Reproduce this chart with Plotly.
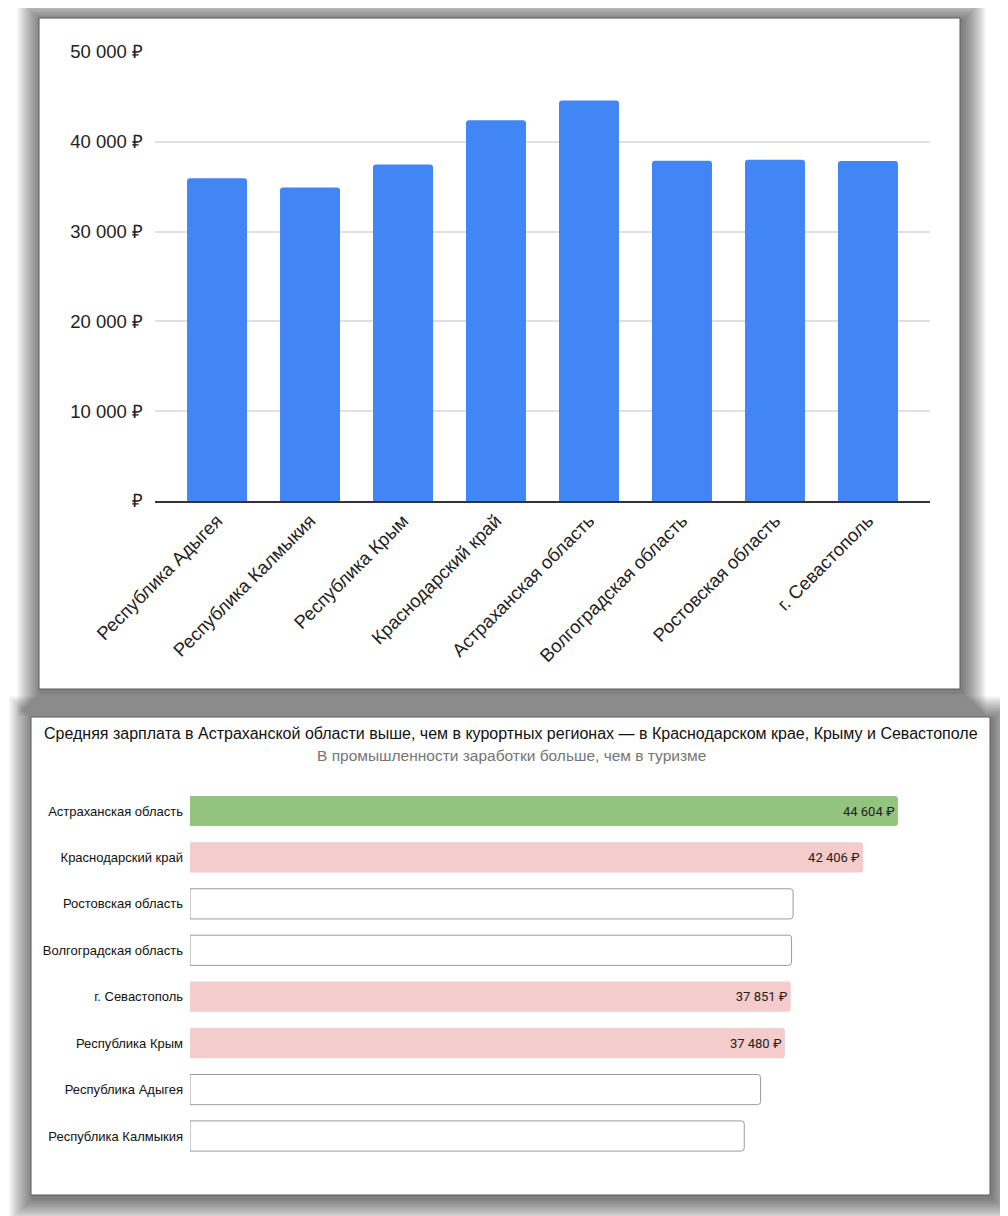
import plotly.graph_objects as go

# page body has an 8px margin: the figure is drawn at (8, 8)
OFF = 8
W, H = 1008 - OFF, 1216 - OFF

# ---------------- data ----------------
regions_top = ["Республика Адыгея", "Республика Калмыкия", "Республика Крым",
               "Краснодарский край", "Астраханская область", "Волгоградская область",
               "Ростовская область", "г. Севастополь"]
salary_top = [35950, 34920, 37480, 42406, 44604, 37900, 38000, 37851]

y_ticks = [0, 10000, 20000, 30000, 40000, 50000]
y_tick_labels = ["₽", "10 000 ₽", "20 000 ₽", "30 000 ₽", "40 000 ₽", "50 000 ₽"]

regions_bottom = ["Астраханская область", "Краснодарский край", "Ростовская область",
                  "Волгоградская область", "г. Севастополь", "Республика Крым",
                  "Республика Адыгея", "Республика Калмыкия"]
salary_bottom = [44604, 42406, 38000, 37900, 37851, 37480, 35950, 34920]
bar_labels_bottom = ["44 604 ₽", "42 406 ₽", "", "", "37 851 ₽", "37 480 ₽", "", ""]
bar_group = ["highlight", "resort", "other", "other", "resort", "resort", "other", "other"]

title_bottom = "Средняя зарплата в Астраханской области выше, чем в курортных регионах — в Краснодарском крае, Крыму и Севастополе"
subtitle_bottom = "В промышленности заработки больше, чем в туризме"

# ---------------- helpers ----------------
def px(x):
    return (x - OFF) / W

def py(y):
    return 1 - (y - OFF) / H

group_fill = {"highlight": "#93c47d", "resort": "#f4cccc", "other": "#ffffff"}
fills = [group_fill[g] for g in bar_group]
line_w = [1 if g == "other" else 0 for g in bar_group]

fig = go.Figure()

# top chart
fig.add_trace(go.Bar(
    x=regions_top, y=salary_top, xaxis="x", yaxis="y",
    marker=dict(color="#4285f4", cornerradius=3, line=dict(width=0)),
    width=0.645, hoverinfo="skip", showlegend=False,
))

# bottom chart
fig.add_trace(go.Bar(
    x=salary_bottom, y=regions_bottom, orientation="h", xaxis="x2", yaxis="y2",
    marker=dict(color=fills, cornerradius=3, line=dict(color="#9a9a9a", width=line_w)),
    width=0.65, text=bar_labels_bottom, textposition="inside", insidetextanchor="end",
    textangle=0, textfont=dict(family="Roboto, Arial, sans-serif", size=13, color="#222222"),
    constraintext="none", hoverinfo="skip", showlegend=False,
))

shapes = []

def shadow(x0, y0, x1, y1, dx=2, dy=3, n=20, step=1.2, alpha=0.03):
    for k in range(n, 0, -1):
        e = k * step
        shapes.append(dict(type="rect", xref="paper", yref="paper", layer="below",
                           x0=px(x0 + dx - e), x1=px(x1 + dx + e),
                           y0=py(y1 + dy + e), y1=py(y0 + dy - e),
                           line=dict(width=0), fillcolor=f"rgba(0,0,0,{alpha})"))

shadow(39, 18, 960, 689)
shadow(31, 717, 990, 1195)
# panels
for (x0, y0, x1, y1) in [(39, 18, 960, 689), (31, 717, 990, 1195)]:
    shapes.append(dict(type="rect", xref="paper", yref="paper", layer="below",
                       x0=px(x0), x1=px(x1), y0=py(y1), y1=py(y0),
                       line=dict(color="#5a5a5a", width=1), fillcolor="#ffffff"))

annotations = [
    dict(text=title_bottom, xref="paper", yref="paper", x=px(511), y=py(733),
         xanchor="center", yanchor="middle", showarrow=False,
         font=dict(family="Arial, Liberation Sans, sans-serif", size=16, color="#111111")),
    dict(text=subtitle_bottom, xref="paper", yref="paper", x=px(511), y=py(755),
         xanchor="center", yanchor="middle", showarrow=False,
         font=dict(family="Arial, Liberation Sans, sans-serif", size=15.5, color="#757575")),
]

fig.update_layout(
    width=W, height=H, margin=dict(l=0, r=0, t=0, b=0, pad=0, autoexpand=False),
    paper_bgcolor="#ffffff", plot_bgcolor="rgba(0,0,0,0)",
    font=dict(family="Arial, Liberation Sans, sans-serif", color="#222222"),
    shapes=shapes, annotations=annotations, bargap=0.35,
    xaxis=dict(domain=[px(155), px(930)], anchor="y", type="category", automargin=False,
               range=[-0.667, 7.667], tickangle=-45, showgrid=False, zeroline=False,
               showline=True, linecolor="#333333", linewidth=1.5, ticks="",
               tickfont=dict(size=18.5, color="#222222"), fixedrange=True),
    yaxis=dict(domain=[py(501), py(52)], anchor="x", range=[0, 50000], automargin=False,
               tickvals=y_ticks, ticktext=y_tick_labels, showgrid=True,
               gridcolor="#e0e0e0", gridwidth=1.5, zeroline=False, showline=False,
               ticks="", ticklabelstandoff=11,
               tickfont=dict(size=18.5, color="#222222"), fixedrange=True),
    xaxis2=dict(domain=[px(190), px(983.6)], anchor="y2", range=[0, 50000],
                visible=False, fixedrange=True, automargin=False),
    yaxis2=dict(domain=[py(1159.2), py(787.8)], anchor="x2", type="category", automargin=False,
                categoryorder="array", categoryarray=regions_bottom, autorange="reversed",
                showgrid=False, zeroline=False, showline=False, ticks="",
                ticklabelstandoff=6,
                tickfont=dict(family="Arial, Liberation Sans, sans-serif", size=13, color="#111111"),
                fixedrange=True),
)

fig.write_html("out.html")
